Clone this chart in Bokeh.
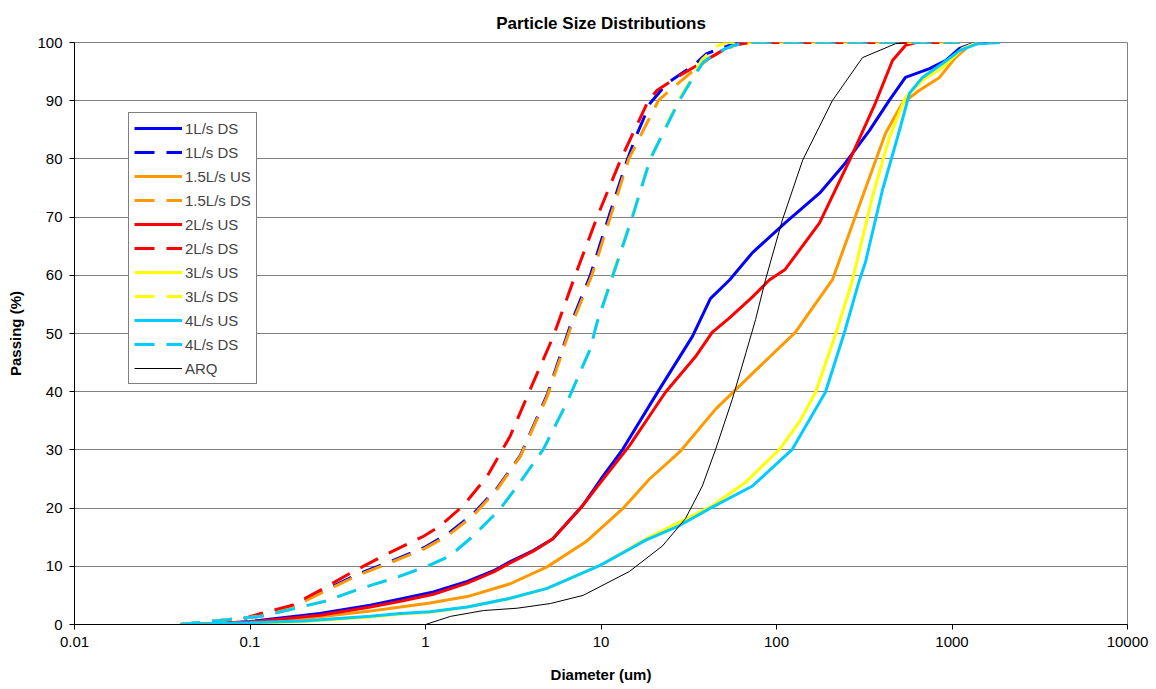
from bokeh.plotting import figure
from bokeh.models import FixedTicker, CustomJSTickFormatter, Legend, LegendItem, Range1d
from bokeh.embed import file_html
from bokeh.resources import INLINE

# ---- data (diameter in um, cumulative passing %) ----
d_1ds = [0.04, 0.06, 0.1, 0.25, 0.485, 0.72, 1.11, 1.73, 2.43, 3.04, 4.11, 5.3, 7.85, 10, 13.3, 21.5, 33.2, 42, 54, 73, 112, 176, 247, 339, 440, 543, 745, 919, 1104, 1310, 1600]
p_1ds = [0, 0.1, 0.5, 1.9, 3.3, 4.4, 5.6, 7.4, 9.2, 10.8, 12.7, 14.7, 20.4, 25, 30.1, 40.4, 49.5, 56, 59.2, 63.9, 69, 74.1, 79.3, 84.9, 90.1, 94, 95.5, 96.9, 99, 99.8, 100]

d_1ds_b = [0.04, 0.115, 0.177, 0.262, 0.409, 0.605, 0.98, 1.33, 1.87, 2.57, 3.47, 4.94, 6.8, 8.7, 10.8, 14.1, 16.1, 19.1, 23.8, 33.5, 40, 49.7, 60, 1100]
p_1ds_b = [0, 1.4, 3.1, 5.8, 8.6, 10.6, 13.2, 15.5, 19, 23.5, 29, 39.5, 52, 60, 69, 79.8, 84.4, 89.6, 93, 96, 98.1, 99.1, 100, 100]

d_15us = [0.04, 0.1, 0.2, 0.485, 0.72, 1.06, 1.73, 3.04, 4.93, 8.2, 13.3, 18.9, 28, 45, 80, 128, 208, 309, 418, 522, 653, 849, 1047, 1258, 1500]
p_15us = [0, 0.4, 1.0, 2.3, 3.0, 3.7, 4.8, 7.0, 9.9, 14.2, 19.9, 25, 29.6, 37, 44.3, 50.2, 59.2, 73.5, 84.4, 89.6, 91.8, 94, 97.4, 99.5, 100]

d_15ds = [0.04, 0.115, 0.177, 0.262, 0.409, 0.605, 0.98, 1.33, 1.87, 2.57, 3.47, 4.94, 6.8, 8.87, 11.3, 14.4, 21.2, 25.8, 32.2, 41.9, 49.7, 60, 70, 1100]
p_15ds = [0, 1.4, 3.1, 5.6, 8.4, 10.4, 13, 15.2, 18.7, 23.3, 28.9, 39.2, 51.5, 60, 70, 80, 90, 92.3, 94.7, 97.4, 98.6, 99.7, 100, 100]

d_2us = [0.04, 0.1, 0.25, 0.485, 0.72, 1.11, 1.73, 2.43, 3.04, 4.11, 5.3, 7.85, 10, 14.5, 23.3, 34.5, 43, 54, 73, 91, 112, 176, 261, 366, 458, 543, 620]
p_2us = [0, 0.4, 1.6, 3.0, 4.0, 5.2, 7.1, 9.0, 10.6, 12.6, 14.7, 20.4, 24.5, 30.7, 39.9, 46, 50.2, 52.7, 56.3, 59.2, 61, 69, 79.8, 89.6, 96.9, 99.5, 100]

d_2ds = [0.04, 0.054, 0.085, 0.115, 0.174, 0.262, 0.388, 0.575, 0.98, 1.21, 1.64, 2.25, 3.04, 3.95, 5.35, 7.13, 9.5, 13, 18.6, 20.9, 28, 37.8, 49, 56.5, 70, 1100]
p_2ds = [0, 0.2, 0.7, 1.9, 3.3, 6.2, 9.1, 11.8, 15.2, 16.9, 20.4, 25.5, 32.4, 40.4, 49.5, 60, 70, 80, 90, 91.8, 94.3, 96.6, 98.6, 99.5, 100, 100]

d_3us = [0.04, 0.1, 0.2, 0.485, 0.72, 1.06, 1.73, 3.04, 4.93, 9.8, 18, 28, 43, 67, 104, 135, 167, 220, 271, 352, 440, 543, 679, 883, 1148, 1400]
p_3us = [0, 0.2, 0.5, 1.3, 1.8, 2.1, 3.0, 4.5, 6.2, 10.1, 14.7, 17.6, 20.4, 24.5, 30.1, 34.8, 39.9, 50.4, 59.2, 73.5, 83.7, 90.6, 93.5, 95.7, 99, 100]

d_3ds = [0.04, 0.115, 0.177, 0.275, 0.426, 0.656, 1.02, 1.38, 1.87, 2.67, 3.47, 4.69, 6.41, 8.67, 9.5, 11.6, 15.0, 19.0, 27.6, 33.0, 37.5, 45, 52, 1100]
p_3ds = [0, 1.4, 2.7, 4.1, 6.2, 7.9, 10, 11.8, 15.2, 19.9, 24.5, 30.1, 38.2, 47.3, 51.9, 60, 70, 80, 90, 94, 97, 99.3, 100, 100]

d_4us = [0.04, 0.1, 0.2, 0.485, 0.72, 1.06, 1.73, 3.04, 4.93, 9.8, 18, 28, 41.5, 73, 123, 190, 245, 297, 321, 402, 502, 573, 679, 883, 1104, 1400, 1880]
p_4us = [0, 0.3, 0.6, 1.4, 1.9, 2.2, 3.0, 4.5, 6.2, 10.1, 14.5, 17, 19.9, 23.8, 30.1, 39.9, 50.4, 59.2, 62.2, 74.7, 84.9, 91.3, 94, 96.4, 98.6, 99.8, 100]

d_4ds = [0.04, 0.115, 0.177, 0.275, 0.426, 0.656, 1.02, 1.38, 1.87, 2.67, 3.47, 4.69, 6.41, 8.67, 9.5, 11.7, 15.1, 19.1, 27.9, 33.5, 38.2, 45.9, 56.6, 70, 1100]
p_4ds = [0, 1.4, 2.7, 4.1, 6.2, 7.9, 10, 11.8, 15.2, 19.9, 24.5, 30.1, 38.2, 47.3, 51.9, 60, 70, 80, 90, 94, 96.6, 98.3, 99.5, 100, 100]

d_arq = [1, 1.39, 2.14, 3.33, 5.14, 7.9, 14.5, 22.4, 30.3, 37.8, 45, 56, 67, 76, 86.5, 108, 141, 208, 309, 477, 550]
p_arq = [0, 1.4, 2.4, 2.8, 3.6, 5.0, 9.1, 13.5, 18.2, 23.8, 30.1, 38.7, 46.7, 52.4, 59.2, 69.5, 79.8, 90, 97.4, 99.8, 100]

series = [
    ("1L/s DS", d_1ds, p_1ds, "#0000FF", "solid", 3),
    ("1L/s DS", d_1ds_b, p_1ds_b, "#0000FF", "dashed", 3),
    ("1.5L/s US", d_15us, p_15us, "#FF9900", "solid", 3),
    ("1.5L/s DS", d_15ds, p_15ds, "#FF9900", "dashed", 3),
    ("2L/s US", d_2us, p_2us, "#FF0000", "solid", 3),
    ("2L/s DS", d_2ds, p_2ds, "#FF0000", "dashed", 3),
    ("3L/s US", d_3us, p_3us, "#FFFF00", "solid", 3),
    ("3L/s DS", d_3ds, p_3ds, "#FFFF00", "dashed", 3),
    ("4L/s US", d_4us, p_4us, "#00CCFF", "solid", 3),
    ("4L/s DS", d_4ds, p_4ds, "#00CCFF", "dashed", 3),
    ("ARQ", d_arq, p_arq, "#000000", "solid", 1),
]

x_ticks = [0.01, 0.1, 1, 10, 100, 1000, 10000]
y_ticks = [0, 10, 20, 30, 40, 50, 60, 70, 80, 90, 100]

FONT = "Liberation Sans"

p = figure(width=1150, height=685, x_axis_type="log",
           x_range=Range1d(0.01, 10000), y_range=Range1d(0, 100),
           output_backend="svg", toolbar_location=None,
           min_border_left=74, min_border_right=23, min_border_top=42, min_border_bottom=59,
           title="Particle Size Distributions")
p.background_fill_color = "white"
p.outline_line_color = "#808080"
p.title.align = "center"
p.title.text_font = FONT
p.title.text_font_size = "17px"
p.title.text_font_style = "bold"
p.title.text_color = "black"
p.title.offset = -8
p.title.standoff = 20

p.xgrid.visible = False
p.ygrid.grid_line_color = "#808080"
p.ygrid.grid_line_width = 1

p.xaxis.ticker = FixedTicker(ticks=x_ticks)
p.xaxis.formatter = CustomJSTickFormatter(code="return tick.toString();")
p.yaxis.ticker = FixedTicker(ticks=y_ticks)
for ax in (p.xaxis, p.yaxis):
    ax.major_tick_out = 5
    ax.major_tick_in = 0
    ax.minor_tick_out = 0
    ax.minor_tick_in = 0
    ax.axis_line_color = "black"
    ax.major_tick_line_color = "black"
    ax.major_label_text_font = FONT
    ax.major_label_text_font_size = "15px"
    ax.major_label_text_color = "black"
    ax.major_label_standoff = 7
    ax.axis_label_text_font = FONT
    ax.axis_label_text_font_size = "15px"
    ax.axis_label_text_font_style = "bold"
    ax.axis_label_text_color = "black"
p.xaxis.axis_label = "Diameter (um)"
p.yaxis.axis_label = "Passing (%)"
p.xaxis.axis_label_standoff = 16
p.yaxis.axis_label_standoff = 10

items = []
for name, xs, ys, col, dash, w in series:
    r = p.line(xs, ys, line_color=col, line_width=w,
               line_dash=("20 12" if dash == "dashed" else "solid"))
    items.append(LegendItem(label=name, renderers=[r]))

legend = Legend(items=items, location=(54, 240))
legend.glyph_width = 48
legend.glyph_height = 20
legend.label_height = 20
legend.spacing = 4
legend.padding = 5
legend.margin = 0
legend.label_standoff = 3
legend.label_text_font = FONT
legend.label_text_font_size = "15px"
legend.border_line_color = "#000000"
legend.border_line_width = 1
legend.background_fill_alpha = 1
p.add_layout(legend)

open("out.html", "w").write(file_html(p, INLINE))
